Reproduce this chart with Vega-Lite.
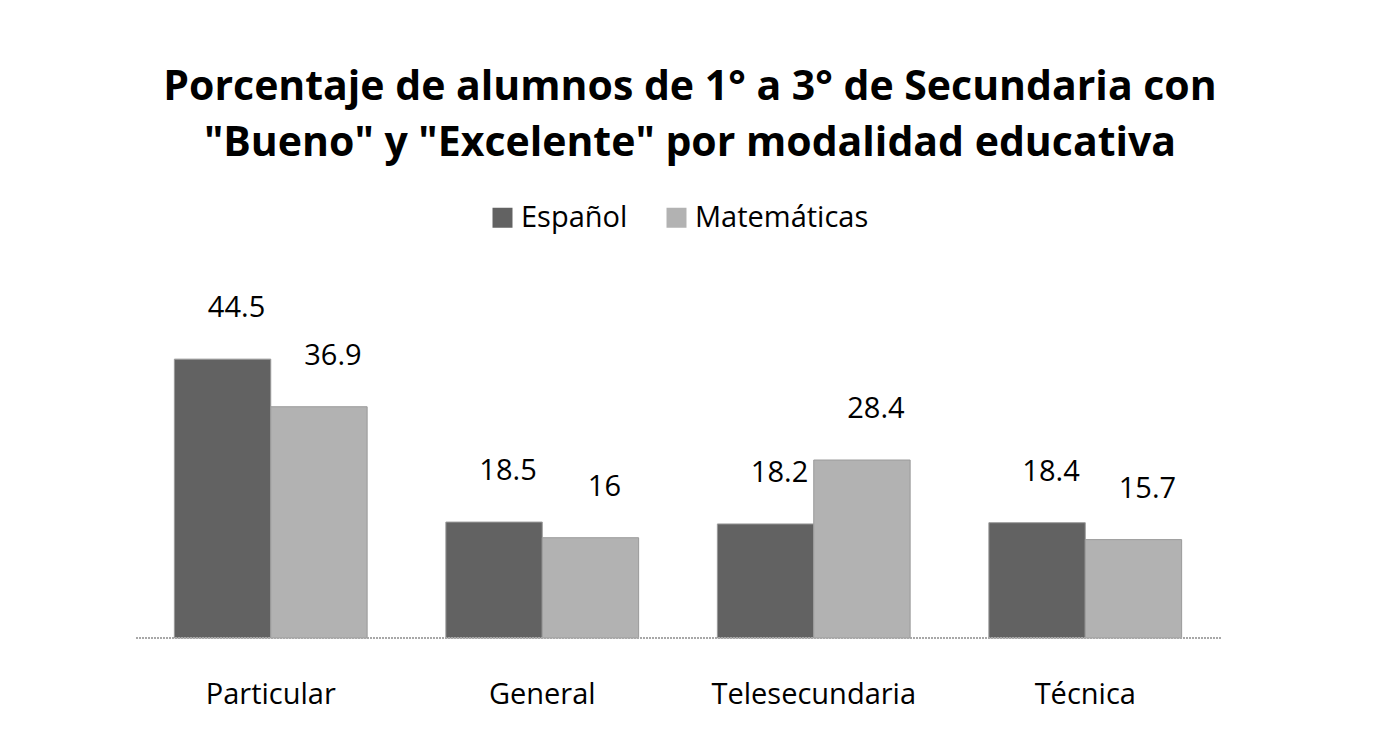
{
  "$schema": "https://vega.github.io/schema/vega-lite/v6.json",
  "width": 1377,
  "height": 736,
  "autosize": {"type": "fit", "contains": "padding"},
  "padding": {"left": 134, "right": 155, "top": 67, "bottom": 27},
  "background": "white",
  "title": {
    "text": ["Porcentaje de alumnos de 1° a 3° de Secundaria con", "\"Bueno\" y \"Excelente\" por modalidad educativa"],
    "font": "Open Sans",
    "fontSize": 41,
    "fontWeight": "bold",
    "color": "black",
    "lineHeight": 56,
    "anchor": "middle",
    "dx": 12,
    "offset": 38
  },
  "data": {
    "values": [
      {"modalidad": "Particular", "materia": "Español", "valor": 44.5},
      {"modalidad": "Particular", "materia": "Matemáticas", "valor": 36.9},
      {"modalidad": "General", "materia": "Español", "valor": 18.5},
      {"modalidad": "General", "materia": "Matemáticas", "valor": 16},
      {"modalidad": "Telesecundaria", "materia": "Español", "valor": 18.2},
      {"modalidad": "Telesecundaria", "materia": "Matemáticas", "valor": 28.4},
      {"modalidad": "Técnica", "materia": "Español", "valor": 18.4},
      {"modalidad": "Técnica", "materia": "Matemáticas", "valor": 15.7}
    ]
  },
  "layer": [
    {
      "mark": {"type": "bar", "stroke": "#9a9a9a", "strokeWidth": 1},
      "encoding": {
        "x": {
          "field": "modalidad",
          "type": "nominal",
          "sort": ["Particular", "General", "Telesecundaria", "Técnica"],
          "scale": {"paddingInner": 0.29, "paddingOuter": 0.145},
          "axis": {
            "title": null,
            "labelAngle": 0,
            "labelFont": "Open Sans",
            "labelFontSize": 29,
            "labelColor": "black",
            "labelPadding": 42,
            "labelLimit": 400,
            "ticks": false,
            "domain": false,
            "grid": false
          }
        },
        "xOffset": {"field": "materia", "type": "nominal", "sort": ["Español", "Matemáticas"]},
        "y": {
          "field": "valor",
          "type": "quantitative",
          "scale": {"domain": [0, 60], "nice": false},
          "axis": null
        },
        "color": {
          "field": "materia",
          "type": "nominal",
          "sort": ["Español", "Matemáticas"],
          "scale": {"domain": ["Español", "Matemáticas"], "range": ["#626262", "#b2b2b2"]},
          "legend": {
            "title": null,
            "orient": "top",
            "direction": "horizontal",
            "symbolType": "square",
            "symbolSize": 400,
            "symbolStrokeWidth": 0,
            "labelFont": "Open Sans",
            "labelFontSize": 29,
            "labelColor": "black",
            "labelLimit": 400,
            "columnPadding": 34,
            "offset": 29
          }
        }
      }
    },
    {
      "mark": {"type": "text", "font": "Open Sans", "fontSize": 29, "color": "black", "dy": -36, "dx": 14, "baseline": "bottom"},
      "encoding": {
        "x": {
          "field": "modalidad",
          "type": "nominal",
          "sort": ["Particular", "General", "Telesecundaria", "Técnica"]
        },
        "xOffset": {"field": "materia", "type": "nominal", "sort": ["Español", "Matemáticas"]},
        "y": {"field": "valor", "type": "quantitative"},
        "text": {"field": "valor", "type": "quantitative", "format": "~g"}
      }
    },
    {
      "mark": {"type": "rule", "color": "#a8a8a8", "strokeWidth": 2, "strokeDash": [2, 1]},
      "encoding": {"y": {"datum": 0}}
    }
  ],
  "config": {
    "view": {"stroke": null},
    "legend": {"layout": {"anchor": "middle"}}
  }
}
